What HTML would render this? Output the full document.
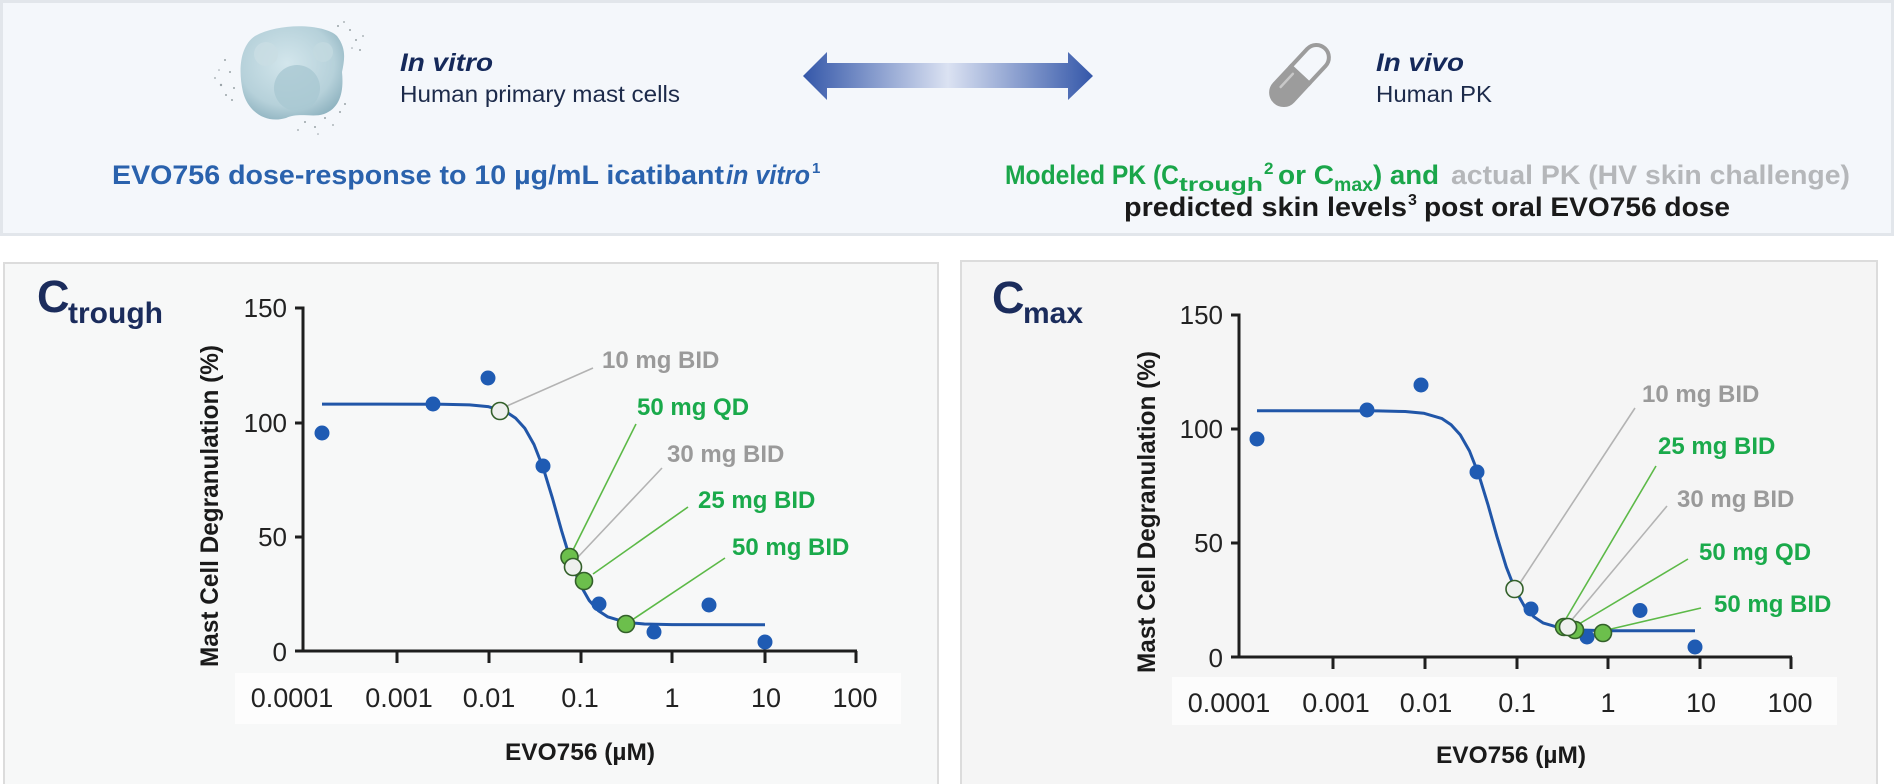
<!DOCTYPE html>
<html><head><meta charset="utf-8"><style>
html,body{margin:0;padding:0;background:#fff;}
svg{display:block;font-family:"Liberation Sans",Arial,sans-serif;}
</style></head><body>
<svg width="1896" height="784" viewBox="0 0 1896 784" xmlns="http://www.w3.org/2000/svg">
<defs>
<linearGradient id="arr" x1="803" y1="0" x2="1093" y2="0" gradientUnits="userSpaceOnUse">
<stop offset="0" stop-color="#3457a9"/><stop offset="0.5" stop-color="#dbe2f2"/><stop offset="1" stop-color="#3457a9"/>
</linearGradient>
<radialGradient id="cell" cx="0.45" cy="0.4" r="0.65">
<stop offset="0" stop-color="#d3e6ec"/><stop offset="0.7" stop-color="#b6d1da"/><stop offset="1" stop-color="#8fb3c0"/>
</radialGradient>
</defs>
<rect x="0" y="0" width="1896" height="784" fill="#fff"/>
<!-- Banner -->
<rect x="1.5" y="1.5" width="1891" height="233" fill="#f4f7fb" stroke="#e2e6eb" stroke-width="3"/>
<!-- cell -->
<g fill="#9aa3a8">
<circle cx="225" cy="60" r="1"/><circle cx="230" cy="72" r="1"/><circle cx="221" cy="85" r="1.2"/><circle cx="226" cy="95" r="1"/><circle cx="215" cy="78" r="0.9"/><circle cx="234" cy="88" r="1"/><circle cx="219" cy="70" r="0.8"/><circle cx="232" cy="100" r="1"/>
<circle cx="350" cy="30" r="1"/><circle cx="356" cy="40" r="1"/><circle cx="344" cy="22" r="0.9"/><circle cx="360" cy="50" r="1"/><circle cx="338" cy="26" r="1"/><circle cx="352" cy="48" r="0.8"/><circle cx="363" cy="36" r="0.9"/>
<circle cx="305" cy="122" r="1"/><circle cx="315" cy="127" r="1"/><circle cx="325" cy="118" r="1"/><circle cx="333" cy="125" r="0.9"/><circle cx="298" cy="130" r="0.9"/><circle cx="340" cy="112" r="1"/><circle cx="318" cy="134" r="0.8"/><circle cx="345" cy="104" r="1"/>
</g>
<path d="M255,36 C280,22 325,24 337,36 C346,48 345,58 342,72 C344,92 340,108 324,114 C312,118 300,112 286,118 C266,124 248,112 243,92 C238,70 240,46 255,36 Z" fill="url(#cell)"/>
<circle cx="297" cy="88" r="23" fill="#a9c8d2" opacity="0.8"/>
<circle cx="266" cy="54" r="12" fill="#c9dde3" opacity="0.8"/>
<circle cx="323" cy="52" r="10" fill="#c3d9e0" opacity="0.8"/>
<text x="400" y="71" font-size="25" font-weight="bold" font-style="italic" fill="#15295a" textLength="93" lengthAdjust="spacingAndGlyphs">In vitro</text>
<text x="400" y="102" font-size="23" fill="#1c2a4a" textLength="280" lengthAdjust="spacingAndGlyphs">Human primary mast cells</text>
<text x="112" y="184" font-size="27" font-weight="bold" fill="#2a62ad" textLength="612" lengthAdjust="spacingAndGlyphs">EVO756 dose-response to 10 µg/mL icatibant</text>
<text x="726" y="184" font-size="27" font-weight="bold" font-style="italic" fill="#2a62ad" textLength="84" lengthAdjust="spacingAndGlyphs">in vitro</text>
<text x="812" y="173" font-size="15" font-weight="bold" fill="#2a62ad">1</text>
<!-- arrow -->
<path d="M803,76 L827,52 L827,63 L1068,63 L1068,52 L1093,76 L1068,100 L1068,88 L827,88 L827,100 Z" fill="url(#arr)"/>
<!-- pill -->
<g transform="translate(1300,75) rotate(-47)">
<path d="M0,-12.5 L24,-12.5 A12.5,12.5 0 0 1 24,12.5 L0,12.5 Z" fill="#f4f7fb" stroke="#9c9c9c" stroke-width="4"/>
<path d="M0,-12.5 L-24,-12.5 A12.5,12.5 0 0 0 -24,12.5 L0,12.5 Z" fill="#9c9c9c" stroke="#9c9c9c" stroke-width="4"/>
<path d="M-22,-6 L-4,-6" stroke="#c8c8c8" stroke-width="2.5" stroke-linecap="round"/>
</g>
<text x="1376" y="71" font-size="25" font-weight="bold" font-style="italic" fill="#15295a" textLength="88" lengthAdjust="spacingAndGlyphs">In vivo</text>
<text x="1376" y="102" font-size="23" fill="#1c2a4a" textLength="116" lengthAdjust="spacingAndGlyphs">Human PK</text>
<!-- green/gray line -->
<g font-weight="bold" fill="#1aa64a">
<text x="1005" y="184" font-size="27" textLength="174" lengthAdjust="spacingAndGlyphs">Modeled PK (C</text>
<text x="1179" y="191" font-size="19" textLength="84" lengthAdjust="spacingAndGlyphs">trough</text>
<text x="1264" y="174" font-size="17">2</text>
<text x="1278" y="184" font-size="27" textLength="56" lengthAdjust="spacingAndGlyphs"> or C</text>
<text x="1334" y="191" font-size="19" textLength="39" lengthAdjust="spacingAndGlyphs">max</text>
<text x="1373" y="184" font-size="27" textLength="66" lengthAdjust="spacingAndGlyphs">) and</text>
<text x="1451" y="184" font-size="27" fill="#b5b7ba" textLength="399" lengthAdjust="spacingAndGlyphs">actual PK (HV skin challenge)</text>
</g>
<g font-weight="bold" fill="#1a1a1a">
<text x="1124" y="216" font-size="27" textLength="283" lengthAdjust="spacingAndGlyphs">predicted skin levels</text>
<text x="1408" y="205" font-size="16">3</text>
<text x="1424" y="216" font-size="27" textLength="306" lengthAdjust="spacingAndGlyphs">post oral EVO756 dose</text>
</g>

<!-- LEFT PANEL -->
<rect x="4" y="263" width="934" height="523" fill="#f7f8f8" stroke="#dcdcdc" stroke-width="2"/>
<text x="37" y="312" font-size="45" font-weight="bold" fill="#1b2c5c">C</text>
<text x="68" y="323" font-size="30" font-weight="bold" fill="#1b2c5c">trough</text>
<rect x="235" y="673" width="666" height="51" fill="#fdfdfd"/>
<g stroke="#1e1e1e" stroke-width="3" fill="none">
<path d="M303,306.5 L303,651 L857,651"/>
<path d="M295,308 L303,308 M295,423 L303,423 M295,537 L303,537 M295,651 L303,651"/>
<path d="M397,651 L397,663 M489,651 L489,663 M581,651 L581,663 M672,651 L672,663 M765,651 L765,663 M856,651 L856,663"/>
</g>
<g font-size="26" fill="#222" text-anchor="end">
<text x="287" y="317">150</text><text x="287" y="432">100</text><text x="287" y="546">50</text><text x="287" y="661">0</text>
</g>
<g font-size="27" fill="#222" text-anchor="middle">
<text x="292" y="707">0.0001</text><text x="399" y="707">0.001</text><text x="489" y="707">0.01</text><text x="580" y="707">0.1</text><text x="672" y="707">1</text><text x="766" y="707">10</text><text x="855" y="707">100</text>
</g>
<text x="580" y="760" font-size="24" font-weight="bold" fill="#1a1a1a" text-anchor="middle" textLength="150" lengthAdjust="spacingAndGlyphs">EVO756 (µM)</text>
<text transform="translate(218,506) rotate(-90)" font-size="25" font-weight="bold" fill="#1a1a1a" text-anchor="middle" textLength="322" lengthAdjust="spacingAndGlyphs">Mast Cell Degranulation (%)</text>
<!-- leaders left -->
<g stroke-width="1.6" fill="none">
<path d="M507,406 L593,368" stroke="#b3b3b3"/>
<path d="M573,550 L636,424" stroke="#5cb947"/>
<path d="M578,557 L662,468" stroke="#b3b3b3"/>
<path d="M593,574 L688,507" stroke="#5cb947"/>
<path d="M632,620 L725,558" stroke="#5cb947"/>
</g>
<g font-size="24" font-weight="bold">
<text x="602" y="368" fill="#9a9a9a">10 mg BID</text>
<text x="637" y="415" fill="#1aaa4b">50 mg QD</text>
<text x="667" y="462" fill="#9a9a9a">30 mg BID</text>
<text x="698" y="508" fill="#1aaa4b">25 mg BID</text>
<text x="732" y="555" fill="#1aaa4b">50 mg BID</text>
</g>
<polyline fill="none" stroke="#2156a8" stroke-width="3" stroke-linejoin="round" points="322,404.1 442,404.2 469.6,404.9 488,406.6 506.4,412 515.6,418.1 524.8,428.3 534,444.5 543.2,467.9 552.4,498 561.6,530.8 570.8,560.9 580,584.4 589.2,600.5 598.4,610.7 607.6,616.8 626,622.3 644.4,624 672,624.6 765,624.7"/>
<g fill="#1f5bb3">
<circle cx="322" cy="433" r="7.5"/><circle cx="433" cy="404" r="7.5"/><circle cx="488" cy="378" r="7.5"/><circle cx="543" cy="466" r="7.5"/><circle cx="599" cy="604" r="7.5"/><circle cx="654" cy="632" r="7.5"/><circle cx="709" cy="605" r="7.5"/><circle cx="765" cy="642" r="7.5"/>
</g>
<g stroke="#33602a" stroke-width="1.6">
<circle cx="500" cy="411" r="8.5" fill="#eef0ee"/>
<circle cx="569.5" cy="557" r="8.5" fill="#6cbf4c"/>
<circle cx="573" cy="567" r="8.5" fill="#eef0ee"/>
<circle cx="584" cy="581" r="8.5" fill="#6cbf4c"/>
<circle cx="626" cy="624" r="8.5" fill="#6cbf4c"/>
</g>

<!-- RIGHT PANEL -->
<rect x="961" y="261" width="916" height="525" fill="#f5f5f5" stroke="#dcdcdc" stroke-width="2"/>
<text x="992" y="313" font-size="45" font-weight="bold" fill="#1b2c5c">C</text>
<text x="1023" y="323" font-size="30" font-weight="bold" fill="#1b2c5c">max</text>
<rect x="1172" y="677" width="665" height="48" fill="#fcfcfc"/>
<g stroke="#1e1e1e" stroke-width="3" fill="none">
<path d="M1239,313.5 L1239,657 L1792,657"/>
<path d="M1231,315 L1239,315 M1231,429 L1239,429 M1231,543 L1239,543 M1231,657 L1239,657"/>
<path d="M1333,657 L1333,669 M1425,657 L1425,669 M1517,657 L1517,669 M1608,657 L1608,669 M1700,657 L1700,669 M1791,657 L1791,669"/>
</g>
<g font-size="26" fill="#222" text-anchor="end">
<text x="1223" y="324">150</text><text x="1223" y="438">100</text><text x="1223" y="552">50</text><text x="1223" y="667">0</text>
</g>
<g font-size="27" fill="#222" text-anchor="middle">
<text x="1229" y="712">0.0001</text><text x="1336" y="712">0.001</text><text x="1426" y="712">0.01</text><text x="1517" y="712">0.1</text><text x="1608" y="712">1</text><text x="1701" y="712">10</text><text x="1790" y="712">100</text>
</g>
<text x="1511" y="763" font-size="24" font-weight="bold" fill="#1a1a1a" text-anchor="middle" textLength="150" lengthAdjust="spacingAndGlyphs">EVO756 (µM)</text>
<text transform="translate(1155,512) rotate(-90)" font-size="25" font-weight="bold" fill="#1a1a1a" text-anchor="middle" textLength="322" lengthAdjust="spacingAndGlyphs">Mast Cell Degranulation (%)</text>
<g stroke-width="1.6" fill="none">
<path d="M1520,583 L1635,408" stroke="#b3b3b3"/>
<path d="M1564,622 L1656,466" stroke="#5cb947"/>
<path d="M1570,622 L1667,506" stroke="#b3b3b3"/>
<path d="M1579,624 L1688,559" stroke="#5cb947"/>
<path d="M1611,629 L1701,608" stroke="#5cb947"/>
</g>
<g font-size="24" font-weight="bold">
<text x="1642" y="402" fill="#9a9a9a">10 mg BID</text>
<text x="1658" y="454" fill="#1aaa4b">25 mg BID</text>
<text x="1677" y="507" fill="#9a9a9a">30 mg BID</text>
<text x="1699" y="560" fill="#1aaa4b">50 mg QD</text>
<text x="1714" y="612" fill="#1aaa4b">50 mg BID</text>
</g>
<polyline fill="none" stroke="#2156a8" stroke-width="3" stroke-linejoin="round" points="1257,410.8 1377.7,410.9 1405.2,411.5 1423.6,413.2 1442,418.6 1451.1,424.7 1460.3,434.9 1469.5,451 1478.7,474.4 1487.9,504.4 1497.1,537.1 1506.3,567.1 1515.5,590.5 1524.7,606.7 1533.8,616.8 1543,622.9 1561.4,628.3 1579.8,630 1607.2,630.7 1695,630.8"/>
<g fill="#1f5bb3">
<circle cx="1257" cy="439" r="7.5"/><circle cx="1367" cy="410" r="7.5"/><circle cx="1421" cy="385" r="7.5"/><circle cx="1477" cy="472" r="7.5"/><circle cx="1531" cy="609" r="7.5"/><circle cx="1587" cy="637" r="7.5"/><circle cx="1640" cy="610.5" r="7.5"/><circle cx="1695" cy="647" r="7.5"/>
</g>
<g stroke="#33602a" stroke-width="1.6">
<circle cx="1514.5" cy="589" r="8.5" fill="#eef0ee"/>
<circle cx="1575" cy="630" r="8.5" fill="#6cbf4c"/>
<circle cx="1564" cy="627" r="8.5" fill="#6cbf4c"/>
<circle cx="1568" cy="627" r="8.5" fill="#eef0ee"/>
<circle cx="1603" cy="633" r="8.5" fill="#6cbf4c"/>
</g>
</svg>
</body></html>
